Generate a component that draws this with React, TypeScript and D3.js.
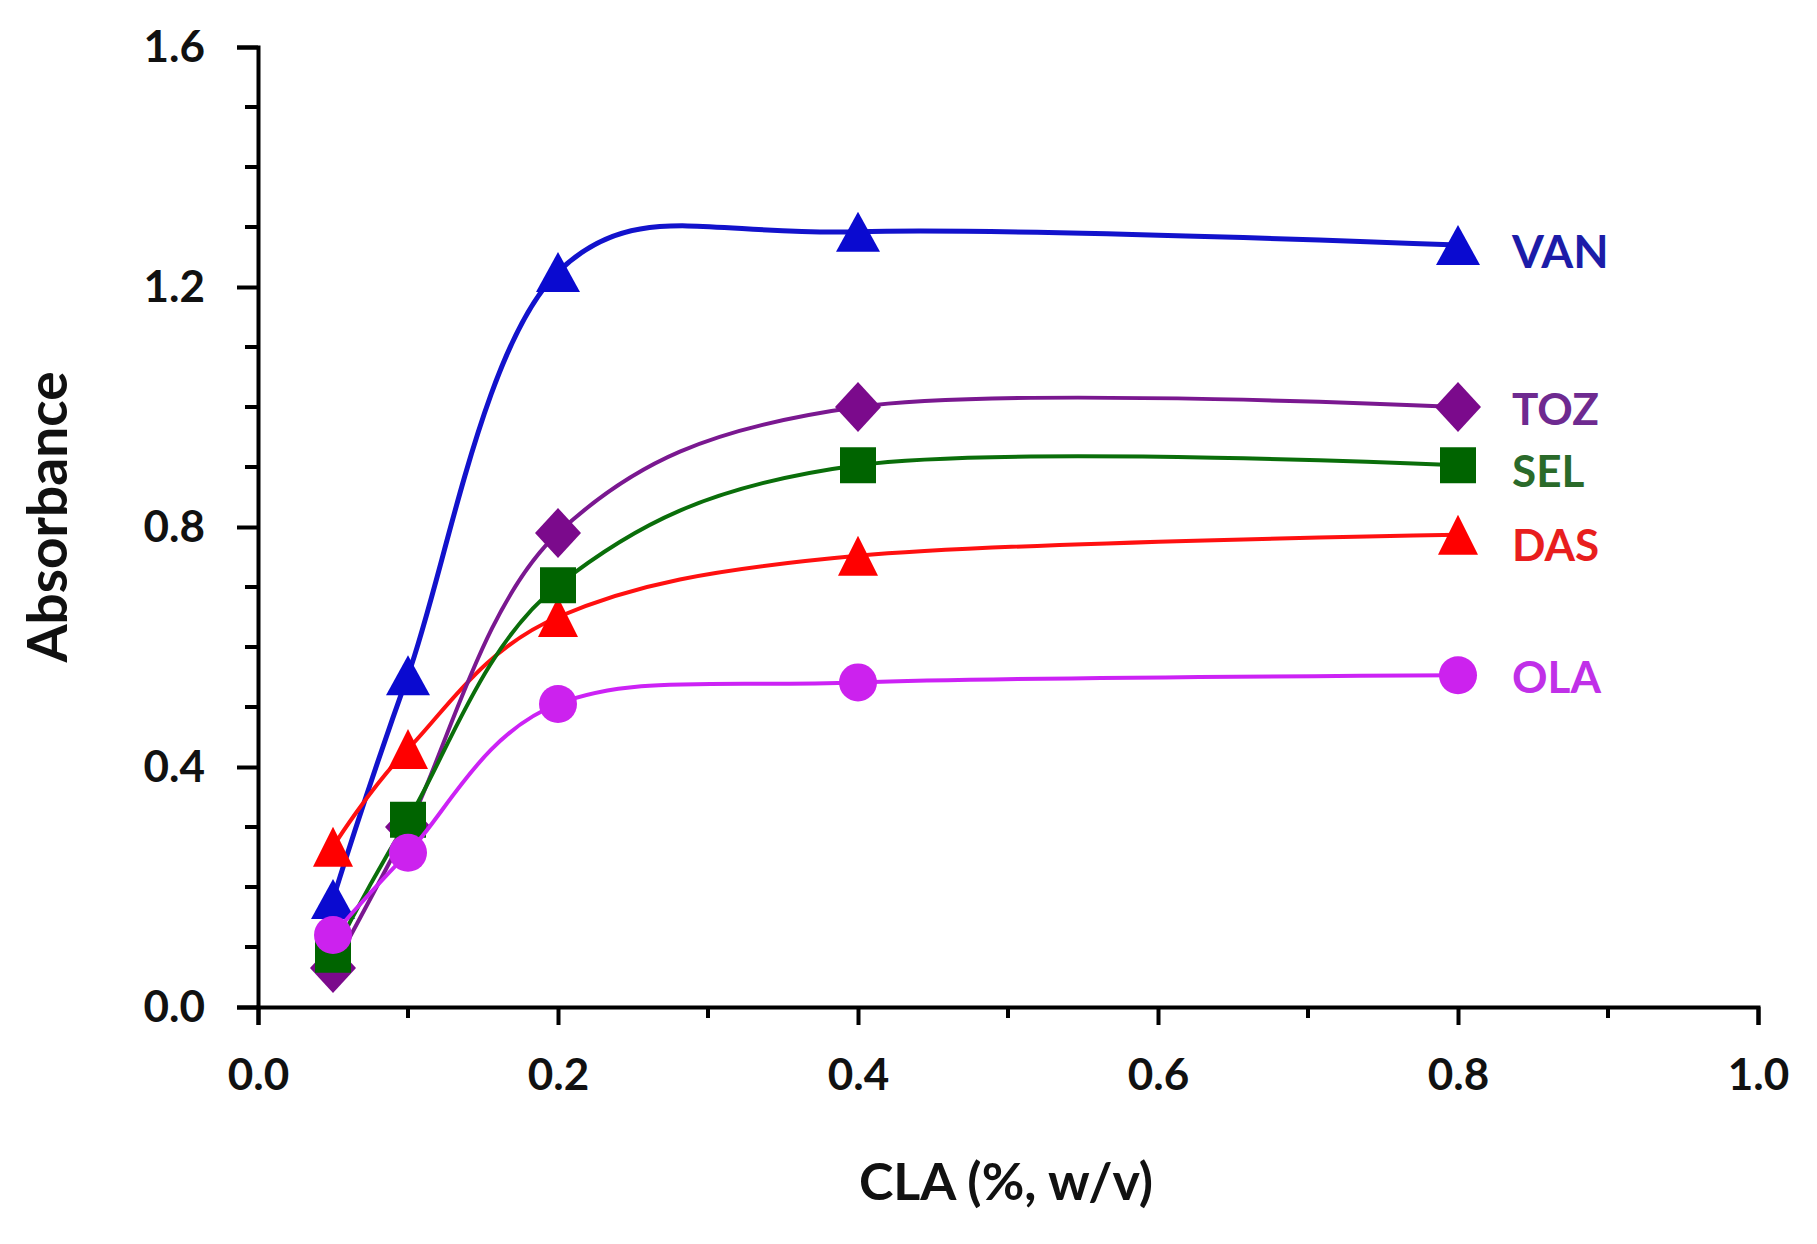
import React, { useEffect, useRef } from "react";
import * as d3 from "d3";

// CLA concentration (%, w/v)
const claLevels = [0.05, 0.1, 0.2, 0.4, 0.8];

// absorbance per drug
const vanAbs = [0.18, 0.553, 1.225, 1.292, 1.27];
const dasAbs = [0.267, 0.43, 0.65, 0.752, 0.787];
const tozAbs = [0.065, 0.3, 0.79, 1.0, 1.0];
const selAbs = [0.087, 0.312, 0.703, 0.903, 0.903];
const olaAbs = [0.12, 0.257, 0.505, 0.541, 0.553];

const seriesNames = ["VAN", "DAS", "TOZ", "SEL", "OLA"];

const xTicks = [0, 0.2, 0.4, 0.6, 0.8, 1.0];
const yTicks = [0, 0.4, 0.8, 1.2, 1.6];

const W = 1817;
const H = 1244;
const FONT = "Lato, 'Open Sans', sans-serif";

// marker shapes, centred on the point
function markerPath(kind: string) {
  if (kind === "tri") return "M0,-20L22,20L-22,20Z";
  if (kind === "tri2") return "M0,-20L20,20L-20,20Z";
  if (kind === "diamond") return "M0,-25L23,0L0,25L-23,0Z";
  if (kind === "square") return "M-18,-18H18V18H-18Z";
  return d3.symbol(d3.symbolCircle, Math.PI * 19 * 19)()!;
}

export default function App() {
  const ref = useRef<SVGSVGElement>(null);

  useEffect(() => {
    const svg = d3.select(ref.current);
    svg.selectAll("*").remove();

    const x = d3.scaleLinear().domain([0, 1]).range([258, 1758]);
    const y = d3.scaleLinear().domain([0, 1.6]).range([1007, 47]);

    const styles: Record<string, any> = {
      VAN: { line: "#1212cc", mark: "#0a0ad0", text: "#1c1ca8", shape: "tri", width: 5, nudge: 5 },
      DAS: { line: "#ff1010", mark: "#ff0000", text: "#e81e1e", shape: "tri2", width: 4, nudge: 9 },
      TOZ: { line: "#7a1890", mark: "#7b0a8c", text: "#6e2a90", shape: "diamond", width: 4, nudge: 1 },
      SEL: { line: "#0a6e0a", mark: "#006400", text: "#2a6a2a", shape: "square", width: 4, nudge: 5 },
      OLA: { line: "#cc22f5", mark: "#cc22ee", text: "#c030e8", shape: "circle", width: 4, nudge: 1 },
    };
    const values: Record<string, number[]> = {
      VAN: vanAbs,
      DAS: dasAbs,
      TOZ: tozAbs,
      SEL: selAbs,
      OLA: olaAbs,
    };

    svg.append("rect").attr("width", W).attr("height", H).attr("fill", "#fff");

    // axes
    const xAxis = d3
      .axisBottom(x)
      .tickValues(xTicks)
      .tickSize(18)
      .tickPadding(34)
      .tickFormat(d3.format(".1f"));
    const gx = svg.append("g").attr("transform", "translate(0,1007)").call(xAxis);
    gx.select(".domain").attr("stroke", "#000").attr("stroke-width", 4);
    gx.selectAll(".tick line").attr("stroke", "#000").attr("stroke-width", 4);
    gx.selectAll(".tick text")
      .attr("fill", "#111")
      .attr("font-family", FONT)
      .attr("font-weight", 700)
      .attr("font-size", 44);
    gx.selectAll(".minor")
      .data(d3.range(0.1, 1, 0.2))
      .enter()
      .append("line")
      .attr("x1", (d) => x(d))
      .attr("x2", (d) => x(d))
      .attr("y1", 0)
      .attr("y2", 11)
      .attr("stroke", "#000")
      .attr("stroke-width", 4);

    const yAxis = d3
      .axisLeft(y)
      .tickValues(yTicks)
      .tickSize(21)
      .tickPadding(32)
      .tickFormat(d3.format(".1f"));
    const gy = svg.append("g").attr("transform", "translate(258,0)").call(yAxis);
    gy.select(".domain").attr("stroke", "#000").attr("stroke-width", 4);
    gy.selectAll(".tick line").attr("stroke", "#000").attr("stroke-width", 4);
    gy.selectAll(".tick text")
      .attr("fill", "#111")
      .attr("font-family", FONT)
      .attr("font-weight", 700)
      .attr("font-size", 44);
    const yMinor = d3.range(1, 16).map((i) => i / 10).filter((v) => Math.round(v * 10) % 4 !== 0);
    gy.selectAll(".minor")
      .data(yMinor)
      .enter()
      .append("line")
      .attr("x1", 0)
      .attr("x2", -13)
      .attr("y1", (d) => y(d))
      .attr("y2", (d) => y(d))
      .attr("stroke", "#000")
      .attr("stroke-width", 4);

    // axis titles
    svg
      .append("text")
      .attr("x", 1006)
      .attr("y", 1200)
      .attr("text-anchor", "middle")
      .attr("font-family", FONT)
      .attr("font-weight", 700)
      .attr("font-size", 52)
      .attr("fill", "#111")
      .text("CLA (%, w/v)");
    svg
      .append("text")
      .attr("transform", "translate(67,517) rotate(-90)")
      .attr("text-anchor", "middle")
      .attr("font-family", FONT)
      .attr("font-weight", 700)
      .attr("font-size", 55)
      .attr("fill", "#111")
      .text("Absorbance");

    // smoothed lines + markers
    const line = d3
      .line<[number, number]>()
      .x((d) => x(d[0]))
      .y((d) => y(d[1]))
      .curve(d3.curveCardinal.tension(0));

    seriesNames.forEach((name) => {
      const st = styles[name];
      const pts: [number, number][] = claLevels.map((c, i) => [c, values[name][i]]);
      const g = svg.append("g");
      g.append("path")
        .datum(pts)
        .attr("fill", "none")
        .attr("stroke", st.line)
        .attr("stroke-width", st.width)
        .attr("d", line);
      g.selectAll("path.mk")
        .data(pts)
        .enter()
        .append("path")
        .attr("class", "mk")
        .attr("d", markerPath(st.shape))
        .attr("transform", (d) => `translate(${x(d[0])},${y(d[1])})`)
        .attr("fill", st.mark);
    });

    // series labels next to the last point
    seriesNames.forEach((name) => {
      const st = styles[name];
      const vals = values[name];
      svg
        .append("text")
        .attr("x", 1512)
        .attr("y", y(vals[vals.length - 1]) + st.nudge)
        .attr("dominant-baseline", "central")
        .attr("font-family", FONT)
        .attr("font-weight", 700)
        .attr("font-size", name === "VAN" ? 46 : 44)
        .attr("fill", st.text)
        .text(name);
    });
  }, []);

  return (
    <svg
      ref={ref}
      width={W}
      height={H}
      style={{ position: "absolute", left: 0, top: 0, display: "block" }}
    />
  );
}
